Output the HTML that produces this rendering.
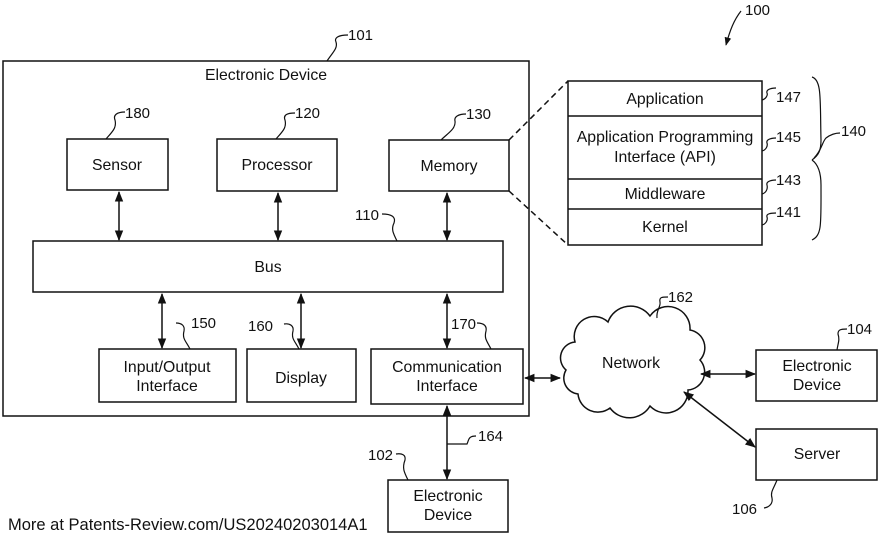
<!DOCTYPE html>
<html><head><meta charset="utf-8"><style>
html,body{margin:0;padding:0;background:#fff;}
svg{display:block;}
text{font-family:"Liberation Sans",Arial,sans-serif;font-size:15.8px;fill:#111;}
.n text{font-size:15px;}
</style></head><body>
<svg width="880" height="543" viewBox="0 0 880 543" xmlns="http://www.w3.org/2000/svg">
<defs>
<marker id="a" viewBox="0 0 10 10" refX="9" refY="5" markerWidth="7" markerHeight="7" orient="auto-start-reverse"><path d="M0 1 L10 5 L0 9 z" fill="#111"/></marker>
</defs>
<g fill="none" stroke="#111" stroke-width="1.5">
<rect x="3" y="61" width="526" height="355"/>
<rect x="67" y="139" width="101" height="51"/>
<rect x="217" y="139" width="120" height="52"/>
<rect x="389" y="140" width="120" height="51"/>
<rect x="33" y="241" width="470" height="51"/>
<rect x="99" y="349" width="137" height="53"/>
<rect x="247" y="349" width="109" height="53"/>
<rect x="371" y="349" width="152" height="55"/>
<rect x="568" y="81" width="194" height="164"/>
<line x1="568" y1="116" x2="762" y2="116"/>
<line x1="568" y1="179" x2="762" y2="179"/>
<line x1="568" y1="209" x2="762" y2="209"/>
<rect x="756" y="350" width="121" height="51"/>
<rect x="756" y="429" width="121" height="51"/>
<rect x="388" y="480" width="120" height="52"/>
<path d="M509 140 L568 81 M509 191 L568 245" stroke-dasharray="6,4"/>
<path d="M575 342 A20 20 0 0 1 608 322 A24 24 0 0 1 650 316 A22 22 0 0 1 690 330 A18 18 0 0 1 700 360 A18 18 0 0 1 688 390 A22 22 0 0 1 650 406 A24 24 0 0 1 610 408 A20 20 0 0 1 578 394 A16 16 0 0 1 566 370 A16 16 0 0 1 575 342 Z"/>
<g marker-start="url(#a)" marker-end="url(#a)">
<line x1="119" y1="192" x2="119" y2="240"/>
<line x1="278" y1="193" x2="278" y2="240"/>
<line x1="447" y1="193" x2="447" y2="240"/>
<line x1="162" y1="294" x2="162" y2="348"/>
<line x1="301" y1="294" x2="301" y2="348"/>
<line x1="447" y1="294" x2="447" y2="348"/>
<line x1="447" y1="406" x2="447" y2="479"/>
<line x1="525" y1="378" x2="560" y2="378"/>
<line x1="701" y1="374" x2="755" y2="374"/>
<line x1="684" y1="392" x2="755" y2="447"/>
</g>
<g stroke-width="1.2">
<path d="M327 61 C333 52,338 48,336 42 C334 38,338 35,348 35"/>
<path d="M106 139 C112 132,117 128,115 120 C113 115,117 112,125 112"/>
<path d="M276 139 C282 132,287 128,285 120 C283 115,287 113,295 113"/>
<path d="M441 140 C448 133,456 129,455 121 C454 117,458 114,466 114"/>
<path d="M397 241 C393 233,391 229,394 223 C396 217,392 214,382 214"/>
<path d="M190 349 C186 341,182 339,184 331 C185 326,182 323,176 323"/>
<path d="M299 349 C295 341,291 339,293 331 C294 326,290 323,284 324"/>
<path d="M491 349 C487 341,484 339,486 331 C487 326,484 323,477 323"/>
<path d="M447 444 L467 444 C469 440,468 436,476 436"/>
<path d="M408 480 C404 472,402 468,405 460 C406 455,402 453,396 454"/>
<path d="M657 318 C656 310,661 307,660 302 C659 297,662 297,668 297"/>
<path d="M837 350 C838 343,840 340,838 334 C838 330,840 329,847 329"/>
<path d="M777 480 C774 488,770 492,772 498 C773 503,770 507,764 508"/>
<path d="M762 100 C766 99,768 95,767 93 C766 90,770 88,776 88"/>
<path d="M762 151 C766 150,768 146,767 143 C766 140,770 138,776 138"/>
<path d="M762 194 C766 193,768 189,767 185 C766 182,770 180,776 180"/>
<path d="M762 225 C766 224,768 220,767 217 C766 214,770 213,776 213"/>
<path d="M812 77 C822 80,820 100,821 140 C821 150,819 155,812 160 M812 160 C819 165,821 175,821 185 C821 225,822 235,812 240"/>
<path d="M814 158 C822 150,822 142,826 138 C830 135,834 133,840 133"/>
</g>
</g>
<path d="M741 11 C734 20,730 30,726 45" fill="none" stroke="#111" stroke-width="1.2" marker-end="url(#a)"/>
<g text-anchor="middle">
<text x="266" y="80">Electronic Device</text>
<text x="117" y="170">Sensor</text>
<text x="277" y="170">Processor</text>
<text x="449" y="171">Memory</text>
<text x="268" y="272">Bus</text>
<text x="167" y="372">Input/Output</text>
<text x="167" y="391">Interface</text>
<text x="301" y="383">Display</text>
<text x="447" y="372">Communication</text>
<text x="447" y="391">Interface</text>
<text x="665" y="104">Application</text>
<text x="665" y="142">Application Programming</text>
<text x="665" y="162">Interface (API)</text>
<text x="665" y="199">Middleware</text>
<text x="665" y="232">Kernel</text>
<text x="631" y="368">Network</text>
<text x="817" y="371">Electronic</text>
<text x="817" y="390">Device</text>
<text x="817" y="459">Server</text>
<text x="448" y="501">Electronic</text>
<text x="448" y="520">Device</text>
</g>
<g class="n">
<text x="348" y="40">101</text>
<text x="125" y="118">180</text>
<text x="295" y="118">120</text>
<text x="466" y="119">130</text>
<text x="355" y="220">110</text>
<text x="191" y="328">150</text>
<text x="248" y="331">160</text>
<text x="451" y="329">170</text>
<text x="478" y="441">164</text>
<text x="368" y="460">102</text>
<text x="668" y="302">162</text>
<text x="847" y="334">104</text>
<text x="732" y="514">106</text>
<text x="745" y="15">100</text>
<text x="776" y="102">147</text>
<text x="776" y="142">145</text>
<text x="776" y="185">143</text>
<text x="776" y="217">141</text>
<text x="841" y="136">140</text>
</g>
<text x="8" y="530" style="font-size:16.5px">More at Patents-Review.com/US20240203014A1</text>
</svg>
</body></html>
